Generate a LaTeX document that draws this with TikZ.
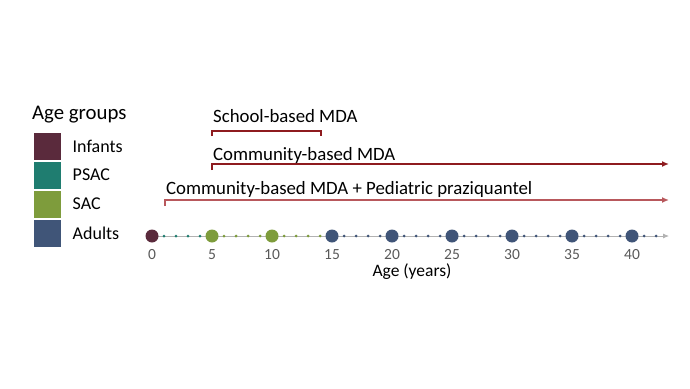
\documentclass[tikz,border=0pt]{standalone}
\usepackage{fontspec}
\setmainfont{Carlito}
\usetikzlibrary{arrows.meta,positioning}
\definecolor{infant}{HTML}{5A2A3C}
\definecolor{psac}{HTML}{1F7D70}
\definecolor{sac}{HTML}{7E9C3C}
\definecolor{adult}{HTML}{405578}
\definecolor{mda}{HTML}{8E1B1F}
\definecolor{ped}{HTML}{B8585C}

\begin{document}
\begin{tikzpicture}[x=1pt, y=-1pt, font=\fontsize{18.8}{22}\selectfont,
            swatch/.style={draw=white, line width=1pt, minimum width=28pt, minimum height=28pt, inner sep=0pt},
            big/.style={circle, inner sep=0pt, minimum size=13pt},
            small/.style={circle, inner sep=0pt, minimum size=3pt},
            ticklabel/.style={text=black!65, font=\fontsize{15.5}{18}\selectfont},
            bar/.style={line width=1.6pt, mda},
            ahead/.style={-{Latex[length=7pt, width=6pt]}}]
            \useasboundingbox (0,0) rectangle (690,388);

            \node[anchor=west, inner sep=0pt, font=\fontsize{20.8}{24}\selectfont] (T) at (32,115) {Age groups};
            \node[swatch, fill=infant] (I) at (47,146) {};
            \node[swatch, fill=psac, below=0pt of I] (P) {};
            \node[swatch, fill=sac, below=0pt of P] (S) {};
            \node[swatch, fill=adult, below=0pt of S] (A) {};
            \foreach \n/\t in {I/Infants, P/PSAC, S/SAC, A/Adults}
                \node[anchor=west, inner sep=0pt, font=\fontsize{18}{21}\selectfont] at ([xshift=11pt]\n.east) {\t};

            \coordinate (X0) at (152,236);
            \coordinate (X1) at (669,236);
            \draw[black!30, line width=0.8pt, -{Latex[length=6pt, width=5pt]}] (X0) -- (X1);
            \foreach \k in {1,...,42} {
                \pgfmathtruncatemacro{\r}{mod(\k,5)}
                \ifnum\r>0
                    \ifnum\k<5 \def\c{psac}\else\ifnum\k<15 \def\c{sac}\else\def\c{adult}\fi\fi
                    \node[small, fill=\c] at (152+12*\k,236) {};
                \fi
            }
            \foreach \k/\c in {0/infant, 5/sac, 10/sac, 15/adult, 20/adult, 25/adult, 30/adult, 35/adult, 40/adult} {
                \node[big, fill=\c] (D\k) at (152+12*\k,236) {};
                \node[ticklabel] at (152+12*\k,255) {\k};
            }
            \node[font=\fontsize{17.5}{20}\selectfont] (L) at (412,272) {Age (years)};

            \coordinate (S0) at (212,131);
            \coordinate (S1) at (321,131);
            \coordinate (C0) at (212,164);
            \coordinate (C1) at (669,164);
            \coordinate (P0) at (165,200);
            \coordinate (P1) at (669,200);

            \draw[bar] (S0) ++(0,5) -- (S0) -- (S1) -- ++(0,5);
            \draw[bar, ahead] (C0) ++(0,6) -- (C0) -- (C1);
            \draw[bar, ped, ahead] (P0) ++(0,6) -- (P0) -- (P1);

            \node[anchor=west, inner sep=0pt] at (213,116) {School-based MDA};
            \node[anchor=west, inner sep=0pt] at (213,155) {Community-based MDA};
            \node[anchor=west, inner sep=0pt] at (166,189) {Community-based MDA + Pediatric praziquantel};
        \end{tikzpicture}
\end{document}
